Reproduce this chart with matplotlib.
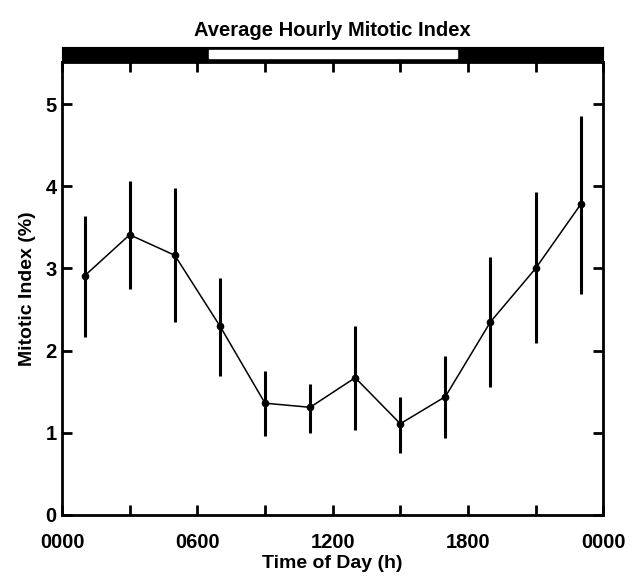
import matplotlib.pyplot as plt
from matplotlib.patches import Rectangle

plt.rcParams['font.family'] = ['Liberation Sans', 'DejaVu Sans']
plt.rcParams['font.weight'] = 'bold'

# data
hours = [1, 3, 5, 7, 9, 11, 13, 15, 17, 19, 21, 23]
mitotic_index = [2.91, 3.41, 3.16, 2.30, 1.36, 1.31, 1.67, 1.11, 1.44, 2.35, 3.00, 3.78]
err_low = [2.17, 2.75, 2.35, 1.69, 0.96, 1.00, 1.03, 0.75, 0.94, 1.56, 2.09, 2.69]
err_high = [3.64, 4.06, 3.98, 2.88, 1.75, 1.59, 2.30, 1.44, 1.93, 3.14, 3.93, 4.85]
lights_on = 6.5
lights_off = 17.5
tick_hours = [0, 6, 12, 18, 24]
tick_labels = ['0000', '0600', '1200', '1800', '0000']

lower = [m - lo for m, lo in zip(mitotic_index, err_low)]
upper = [hi - m for m, hi in zip(mitotic_index, err_high)]

fig = plt.figure(figsize=(6.33, 5.76), dpi=100)
ax = fig.add_axes([0.098, 0.106, 0.855, 0.786])

ax.errorbar(hours, mitotic_index, yerr=[lower, upper], fmt='o-', color='black',
            ms=4.5, lw=1.1, elinewidth=2.2, capsize=0)

ax.set_xlim(0, 24)
ax.set_ylim(0, 5.51)
ax.set_xticks(tick_hours)
ax.set_xticklabels(tick_labels)
ax.set_xticks(range(0, 25, 3), minor=True)
ax.set_yticks(range(0, 6))
ax.tick_params(which='both', direction='in', top=True, right=True, width=2,
               length=7, labelsize=14.5)
ax.tick_params(axis='x', pad=13)
ax.tick_params(axis='y', pad=4)
for s in ax.spines.values():
    s.set_linewidth(2)

ax.set_xlabel('Time of Day (h)', fontsize=14, fontweight='bold', labelpad=2)
ax.set_ylabel('Mitotic Index (%)', fontsize=14, fontweight='bold', labelpad=7)

# light/dark bar above the plot
bar = fig.add_axes([0.098, 0.892, 0.855, 0.026])
bar.set_xlim(0, 24)
bar.set_ylim(0, 1)
bar.set_facecolor('black')
bar.add_patch(Rectangle((lights_on, 0.25), lights_off - lights_on, 0.55,
                        color='white'))
bar.set_xticks([])
bar.set_yticks([])
bar.set_title('Average Hourly Mitotic Index', fontsize=14.5, fontweight='bold', pad=8)

fig.savefig('out.png', dpi=100)
